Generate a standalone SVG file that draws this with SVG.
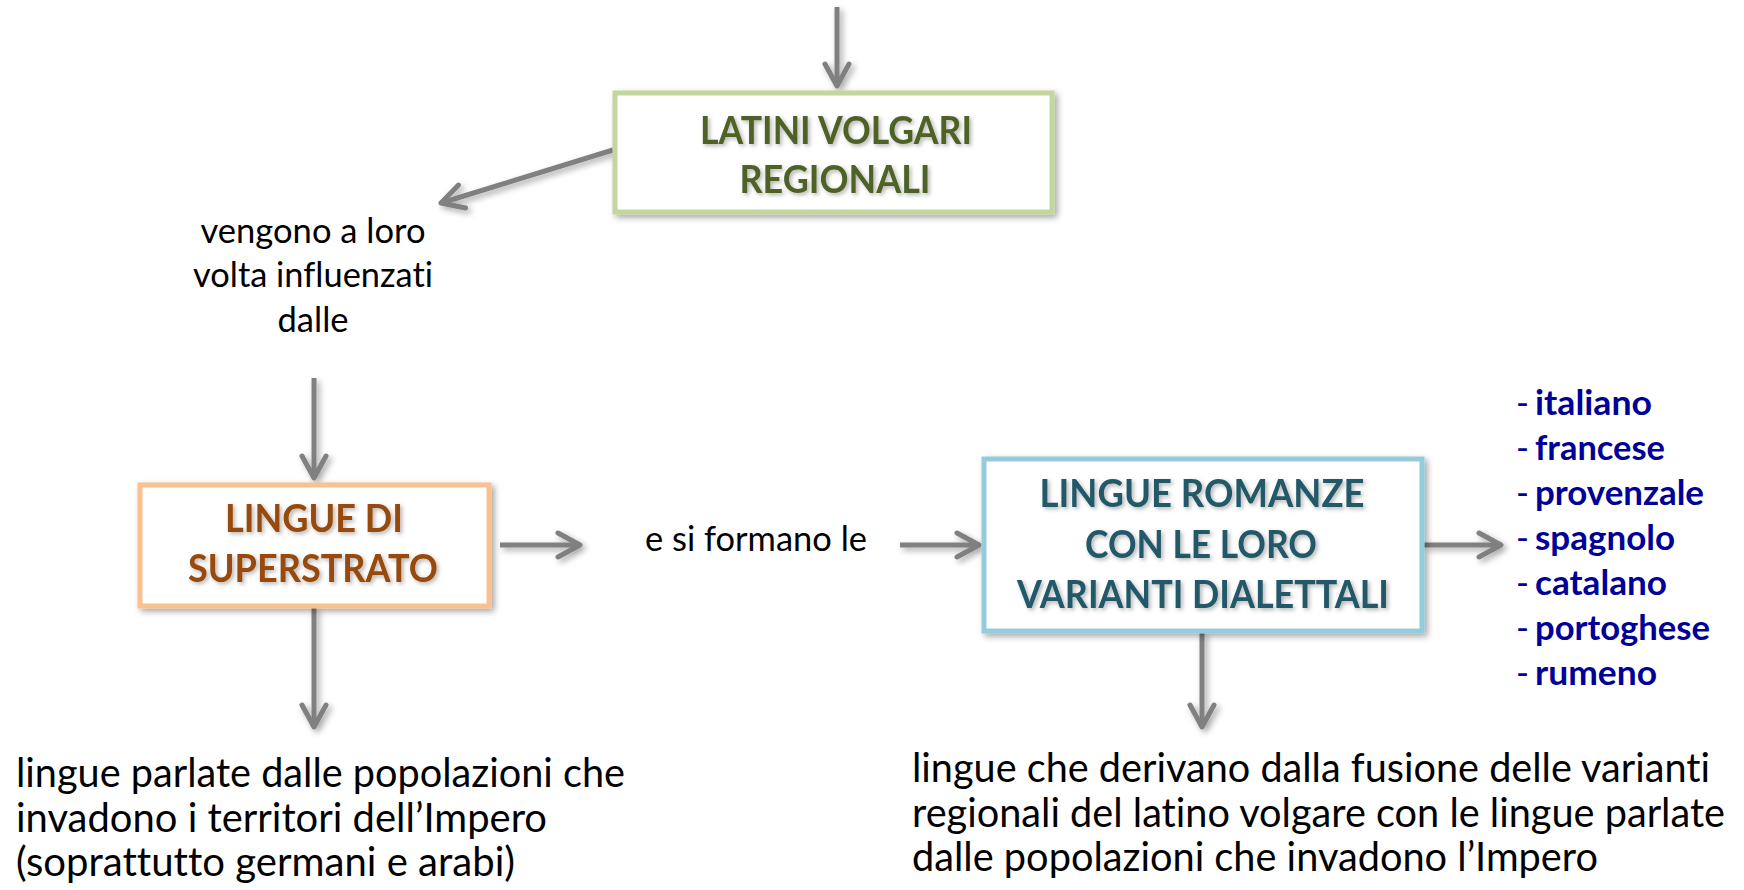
<svg xmlns="http://www.w3.org/2000/svg" width="1744" height="890" viewBox="0 0 1744 890">
<defs>
<filter id="sh" filterUnits="userSpaceOnUse" x="0" y="0" width="1744" height="890">
<feDropShadow dx="3" dy="3" stdDeviation="3" flood-color="#000" flood-opacity="0.35"/>
</filter>
<filter id="tsh" filterUnits="userSpaceOnUse" x="0" y="0" width="1744" height="890">
<feDropShadow dx="2" dy="2" stdDeviation="2" flood-color="#000" flood-opacity="0.3"/>
</filter>
<marker id="ah" markerUnits="userSpaceOnUse" viewBox="-26 -15 30 30" markerWidth="30" markerHeight="30" refX="0" refY="0" orient="auto">
<path d="M -22 -12 L 0 0 L -22 12" fill="none" stroke="#808080" stroke-width="5" stroke-linecap="round" stroke-linejoin="round"/>
</marker>
</defs>
<style>
text{font-variant-ligatures:none;font-feature-settings:"liga" 0}
.box{fill:#fff;stroke-width:5;filter:url(#sh)}
.bt{font-family:Lato,"Liberation Sans",sans-serif;font-weight:bold;font-size:39px;text-anchor:middle;filter:url(#tsh)}
.t{font-family:Lato,"Liberation Sans",sans-serif;font-size:35px;fill:#000}
.b{font-family:Lato,"Liberation Sans",sans-serif;font-size:41px;fill:#000}
.li{font-family:Lato,"Liberation Sans",sans-serif;font-size:35px;fill:#000099;font-weight:bold}
.dash{font-family:Lato,"Liberation Sans",sans-serif;font-size:35px;fill:#000099}
.c{stroke:#808080;stroke-width:5;fill:none;marker-end:url(#ah)}
</style>
<rect width="1744" height="890" fill="#fff"/>

<g id="connectors" filter="url(#sh)">
<line class="c" x1="837" y1="7" x2="837" y2="86"/>
<line class="c" x1="613" y1="150" x2="441" y2="203"/>
<line class="c" x1="314" y1="378" x2="314" y2="478"/>
<line class="c" x1="500" y1="545" x2="580" y2="545"/>
<line class="c" x1="900" y1="545" x2="979" y2="545"/>
<line class="c" x1="1424" y1="545" x2="1501" y2="545"/>
<line class="c" x1="314" y1="607" x2="314" y2="727"/>
<line class="c" x1="1202" y1="632" x2="1202" y2="727"/>
</g>

<g id="latini">
<rect class="box" x="615" y="93" width="437" height="119" stroke="#c3d69b"/>
<text class="bt" fill="#4f6228" x="836" y="144" textLength="272" lengthAdjust="spacingAndGlyphs">LATINI VOLGARI</text>
<text class="bt" fill="#4f6228" x="835" y="193" textLength="191" lengthAdjust="spacingAndGlyphs">REGIONALI</text>
</g>

<g id="label-vengono">
<text class="t" x="313" y="243" text-anchor="middle" textLength="225" lengthAdjust="spacingAndGlyphs">vengono a loro</text>
<text class="t" x="313" y="287" text-anchor="middle" textLength="240" lengthAdjust="spacingAndGlyphs">volta influenzati</text>
<text class="t" x="313" y="332" text-anchor="middle" textLength="71" lengthAdjust="spacingAndGlyphs">dalle</text>
</g>

<g id="superstrato">
<rect class="box" x="140" y="485" width="349" height="121" stroke="#fac090"/>
<text class="bt" fill="#984807" x="314" y="532" textLength="178" lengthAdjust="spacingAndGlyphs">LINGUE DI</text>
<text class="bt" fill="#984807" x="313" y="582" textLength="250" lengthAdjust="spacingAndGlyphs">SUPERSTRATO</text>
</g>

<g id="label-formano">
<text class="t" x="756" y="551" text-anchor="middle" textLength="222" lengthAdjust="spacingAndGlyphs">e si formano le</text>
</g>

<g id="romanze">
<rect class="box" x="984" y="459" width="438" height="172" stroke="#93cddd"/>
<text class="bt" fill="#215968" x="1202" y="507" textLength="325" lengthAdjust="spacingAndGlyphs">LINGUE ROMANZE</text>
<text class="bt" fill="#215968" x="1201" y="558" textLength="232" lengthAdjust="spacingAndGlyphs">CON LE LORO</text>
<text class="bt" fill="#215968" x="1203" y="608" textLength="372" lengthAdjust="spacingAndGlyphs">VARIANTI DIALETTALI</text>
</g>

<g id="lista">
<text class="dash" x="1516" y="415">-</text>
<text class="li" x="1535" y="415" textLength="117" lengthAdjust="spacingAndGlyphs">italiano</text>
<text class="dash" x="1516" y="460">-</text>
<text class="li" x="1535" y="460" textLength="130" lengthAdjust="spacingAndGlyphs">francese</text>
<text class="dash" x="1516" y="505">-</text>
<text class="li" x="1535" y="505" textLength="169" lengthAdjust="spacingAndGlyphs">provenzale</text>
<text class="dash" x="1516" y="550">-</text>
<text class="li" x="1535" y="550" textLength="140" lengthAdjust="spacingAndGlyphs">spagnolo</text>
<text class="dash" x="1516" y="595">-</text>
<text class="li" x="1535" y="595" textLength="132" lengthAdjust="spacingAndGlyphs">catalano</text>
<text class="dash" x="1516" y="640">-</text>
<text class="li" x="1535" y="640" textLength="175" lengthAdjust="spacingAndGlyphs">portoghese</text>
<text class="dash" x="1516" y="685">-</text>
<text class="li" x="1535" y="685" textLength="122" lengthAdjust="spacingAndGlyphs">rumeno</text>
</g>

<g id="desc-superstrato">
<text class="b" x="16" y="787" textLength="609" lengthAdjust="spacingAndGlyphs">lingue parlate dalle popolazioni che</text>
<text class="b" x="16" y="832" textLength="531" lengthAdjust="spacingAndGlyphs">invadono i territori dell’Impero</text>
<text class="b" x="16" y="876" textLength="499" lengthAdjust="spacingAndGlyphs">(soprattutto germani e arabi)</text>
</g>

<g id="desc-romanze">
<text class="b" x="912" y="782" textLength="798" lengthAdjust="spacingAndGlyphs">lingue che derivano dalla fusione delle varianti</text>
<text class="b" x="912" y="827" textLength="813" lengthAdjust="spacingAndGlyphs">regionali del latino volgare con le lingue parlate</text>
<text class="b" x="912" y="871" textLength="686" lengthAdjust="spacingAndGlyphs">dalle popolazioni che invadono l’Impero</text>
</g>
</svg>
